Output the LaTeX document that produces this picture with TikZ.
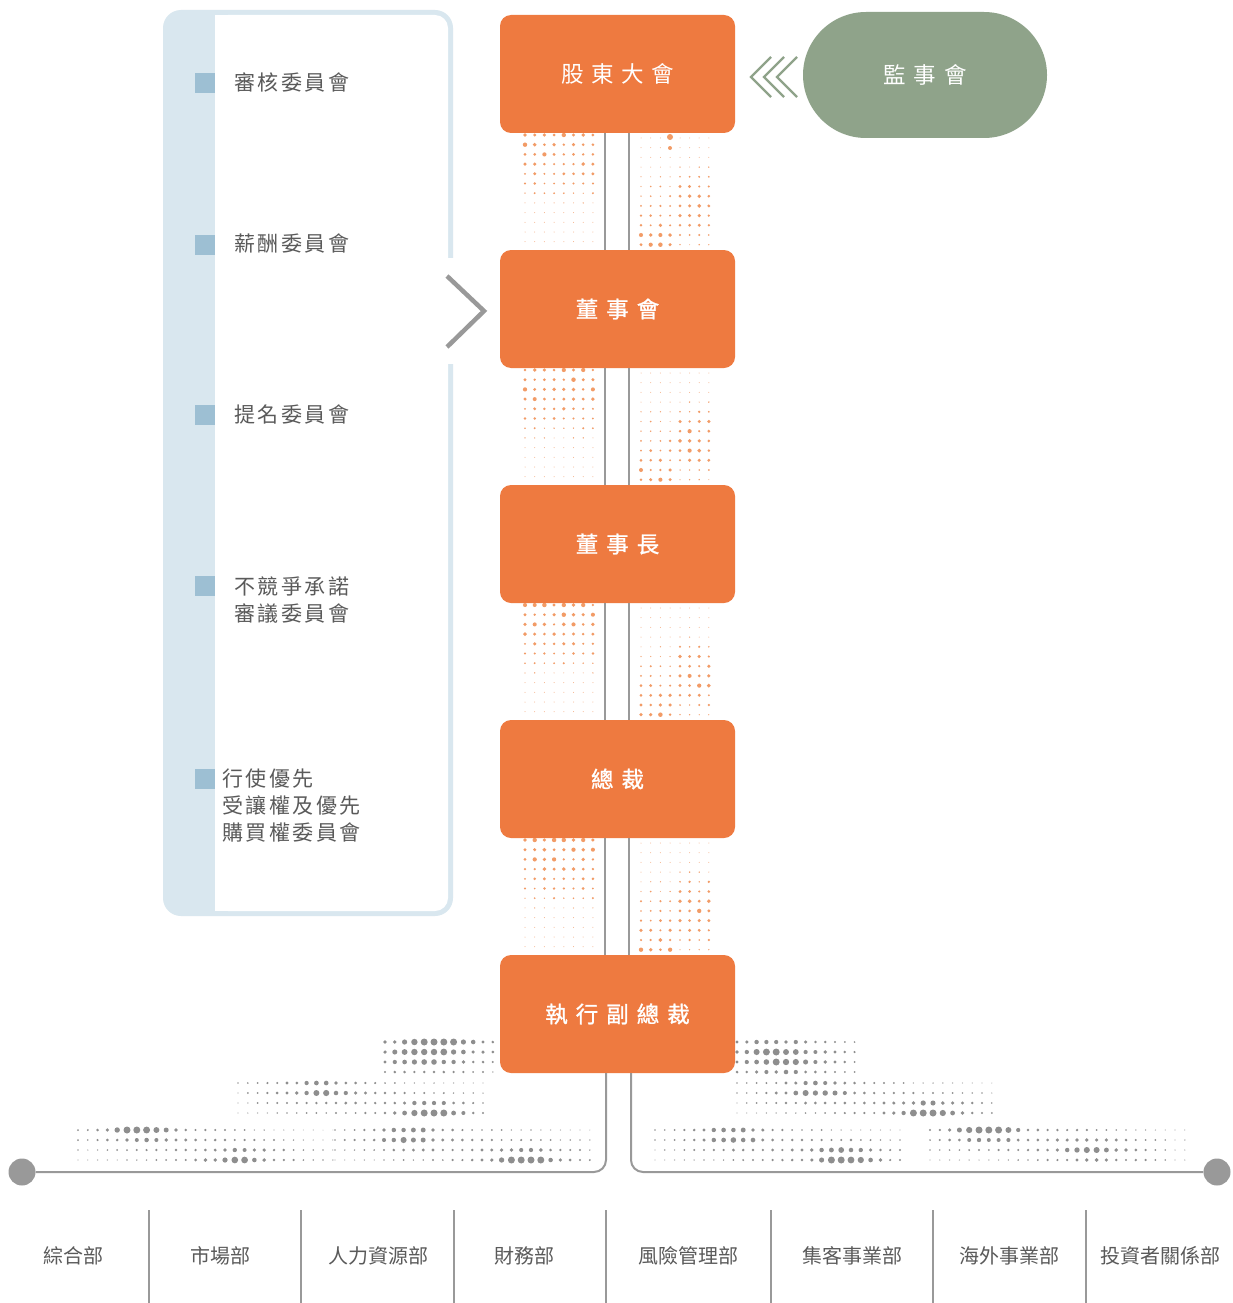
\documentclass[tikz,border=0pt]{standalone}
\usepackage{fontspec}
\setmainfont{Noto Sans CJK TC}
\newfontfamily\medfont[FakeBold=1.1]{Noto Sans CJK TC}
\usetikzlibrary{calc}
\definecolor{orng}{HTML}{EE7A40}
\definecolor{sage}{HTML}{8FA38A}
\definecolor{pblue}{HTML}{D9E7EF}
\definecolor{sqblue}{HTML}{9DBFD3}
\definecolor{lgray}{HTML}{999999}
\definecolor{dgray}{HTML}{8E8E8E}
\definecolor{txt}{HTML}{5A5A5A}
\definecolor{odotc}{HTML}{F29B66}
\newdimen\spk
\makeatletter
\def\spaced#1#2{\spk=#1\relax\sp@A#2\relax}
\def\sp@A#1{\ifx#1\relax\else#1\expandafter\sp@B\fi}
\def\sp@B#1{\ifx#1\relax\else\kern\spk#1\expandafter\sp@B\fi}
\makeatother
\tikzset{
  declare function={gs(\a,\b)=exp(-min(9,\a*\a+\b*\b));},
  obox/.style={fill=orng, rounded corners=11pt, minimum width=235pt, minimum height=118pt, inner sep=0pt, text=white, font=\fontsize{22.5}{26}\selectfont},
  ovalbox/.style={fill=sage, rounded corners=63pt, minimum width=244pt, minimum height=126pt, inner sep=0pt, text=white, font=\fontsize{22.5}{26}\selectfont},
  conn/.style={draw=lgray, line width=2pt},
  sq/.style={fill=sqblue, minimum size=20pt, inner sep=0pt},
  comm/.style={anchor=west, align=left, inner sep=0pt, text=txt, font=\fontsize{21}{27}\selectfont},
  dept/.style={inner sep=0pt, text=txt, font=\fontsize{20}{24}\selectfont},
  enddot/.style={circle, fill=lgray, minimum size=27pt, inner sep=0pt},
}
\newcommand\orgdot[3]{%
  \pgfmathsetmacro\dO{min(1,0.3+#3/1.0)}%
  \fill[odotc, fill opacity=\dO] (#1,#2) circle (#3 pt);%
}
\newcommand\ogrid[2]{%
  \pgfmathsetseed{#2}%
  \foreach \i in {0,...,7}{\foreach \j in {0,...,11}{%
    \pgfmathsetmacro\dX{525+9.7*\i}%
    \pgfmathsetmacro\dY{#1+2+9.7*\j}%
    \pgfmathsetmacro\dR{max(0.5,2.3*max(0,1-(\j/8.5)^2)*(0.55+0.45*rnd))}%
    \orgdot{\dX}{\dY}{\dR}%
  }}%
  \foreach \i in {0,...,3}{\foreach \j in {0,...,11}{%
    \pgfmathsetmacro\dX{641+9.7*\i}%
    \pgfmathsetmacro\dY{#1+5+9.7*\j}%
    \pgfmathsetmacro\dR{max(0.5,2.3*(\j/11)^1.1*(0.55+0.45*rnd))}%
    \orgdot{\dX}{\dY}{\dR}%
  }}%
  \foreach \i in {0,...,3}{\foreach \j in {0,...,11}{%
    \pgfmathsetmacro\dX{680+9.6*\i}%
    \pgfmathsetmacro\dY{#1+5+9.7*\j}%
    \pgfmathsetmacro\dR{max(0.5,2.3*exp(-((\j-7)/4)^2)*(0.55+0.45*rnd))}%
    \orgdot{\dX}{\dY}{\dR}%
  }}%
}
\newcommand\gclu[9]{%
  \foreach \i in {0,...,#2}{\foreach \j in {0,...,3}{%
    \pgfmathsetmacro\dX{#1+9.8*\i}%
    \pgfmathsetmacro\dY{#3+10*\j}%
    \pgfmathsetmacro\dR{min(3.5,(0.5+#6*gs((\dX-#4)/26,(\dY-#5)/9)+#9*gs((\dX-#7)/26,(\dY-#8)/9)+1.1*gs((\dX-#4)/75,(\dY-#5)/22)+1.1*gs((\dX-#7)/75,(\dY-#8)/22))*(0.85+0.25*rnd))}%
    \pgfmathsetmacro\dO{min(1,0.2+\dR/1.2)}%
    \fill[dgray, fill opacity=\dO] (\dX,\dY) circle (\dR pt);
  }}%
}
\begin{document}
\begin{tikzpicture}[x=1pt,y=-1pt]
\useasboundingbox (0,0) rectangle (1232,1303);
\fill[white] (0,0) rectangle (1232,1303);

% left committee panel
\fill[pblue, rounded corners=18pt] (163,10) rectangle (453,916);
\fill[white, rounded corners=13pt] (215,15) rectangle (448,911);
\fill[white] (215,15) rectangle (240,911);
\fill[white] (445,258) rectangle (456,364);
\draw[lgray, line width=4.5pt] (447,276) -- (484,311) -- (447,347);

\node[sq] (s1) at (205,83) {};
\node[sq] (s2) at (205,245) {};
\node[sq] (s3) at (205,415) {};
\node[sq] (s4) at (205,586) {};
\node[sq] (s5) at (205,779) {};
\node[comm] (c1) at (234,82) {\spaced{2.5pt}{審核委員會}};
\node[comm] (c2) at (234,244) {\spaced{2.5pt}{薪酬委員會}};
\node[comm] (c3) at (234,414) {\spaced{2.5pt}{提名委員會}};
\node[comm] (c4) at (234,600) {\spaced{2.5pt}{不競爭承諾}\\\spaced{2.5pt}{審議委員會}};
\node[comm] (c5) at (222,806) {\spaced{2.5pt}{行使優先}\\\spaced{2.5pt}{受讓權及優先}\\\spaced{2.5pt}{購買權委員會}};

% orange dot grids
\ogrid{133}{11}
\ogrid{368}{23}
\ogrid{603}{37}
\ogrid{838}{51}
\fill[odotc] (670,137) circle (3pt);
\fill[odotc] (670,148) circle (2pt);

% gray dot clusters
\pgfmathsetseed{7}
\gclu{385}{11}{1042}{437}{1042}{2.5}{420}{1058}{1.0}
\gclu{238}{25}{1083}{320}{1090}{1.4}{430}{1113}{2.5}
\gclu{78}{26}{1130}{140}{1130}{2.5}{240}{1158}{1.6}
\gclu{335}{26}{1130}{410}{1136}{1.6}{525}{1160}{2.5}
\gclu{737}{12}{1042}{785}{1062}{1.2}{770}{1050}{0.6}
\gclu{737}{26}{1083}{815}{1090}{1.5}{930}{1112}{2.6}
\gclu{655}{25}{1130}{730}{1136}{1.5}{845}{1158}{2.6}
\gclu{930}{26}{1130}{985}{1130}{2.6}{1095}{1150}{1.4}

% main boxes
\node[obox] (e1) at (617.5,74) {\spaced{7.5pt}{股東大會}};
\node[obox] (e2) at (617.5,309) {\medfont\spaced{8pt}{董事會}};
\node[obox] (e3) at (617.5,544) {\medfont\spaced{8pt}{董事長}};
\node[obox] (e4) at (617.5,779) {\medfont\raisebox{-2pt}{\spaced{8pt}{總裁}}};
\node[obox] (e5) at (617.5,1014) {\medfont\raisebox{-2pt}{\spaced{8pt}{執行副總裁}}};
\node[ovalbox] (sup) at (925,75) {\spaced{8pt}{監事會}};

% chevrons from supervisors
\foreach \d in {0,13,26}{
  \draw[sage, line width=2.3pt] (771+\d,57) -- (751+\d,77) -- (771+\d,97);
}

% connectors
\foreach \a/\b in {e1/e2,e2/e3,e3/e4,e4/e5}{
  \draw[conn] ($(\a.south)+(-13,0)$) -- ($(\b.north)+(-13,0)$);
  \draw[conn] ($(\a.south)+(11,0)$) -- ($(\b.north)+(11,0)$);
}
\node[enddot] (ld) at (22,1172) {};
\node[enddot] (rd) at (1217,1172) {};
\draw[conn, rounded corners=12pt] ($(e5.south)+(-11.5,0)$) |- (ld);
\draw[conn, rounded corners=12pt] ($(e5.south)+(13.5,0)$) |- (rd);

% departments
\foreach \x in {149,301,454,606,771,933,1086}{
  \draw[conn] (\x,1210) -- (\x,1303);
}
\node[dept] (d1) at (73,1256) {綜合部};
\node[dept] (d2) at (220,1256) {市場部};
\node[dept] (d3) at (378,1256) {人力資源部};
\node[dept] (d4) at (524,1256) {財務部};
\node[dept] (d5) at (688,1256) {風險管理部};
\node[dept] (d6) at (852,1256) {集客事業部};
\node[dept] (d7) at (1009,1256) {海外事業部};
\node[dept] (d8) at (1160,1256) {投資者關係部};
\end{tikzpicture}
\end{document}
